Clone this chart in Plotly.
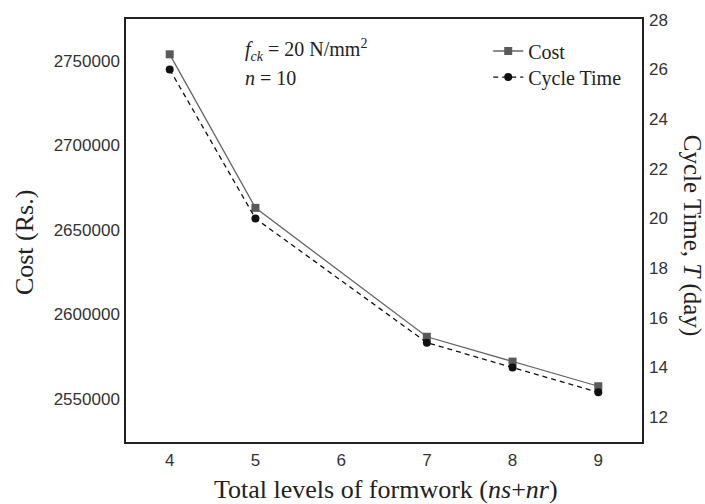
import plotly.graph_objects as go

levels = [4, 5, 7, 8, 9]
cost = [2753800, 2662900, 2586600, 2571900, 2557300]
cycle_time = [26, 20, 15, 14, 13]
x_ticks = [4, 5, 6, 7, 8, 9]
cost_ticks = [2550000, 2600000, 2650000, 2700000, 2750000]
time_ticks = [12, 14, 16, 18, 20, 22, 24, 26, 28]

serif = "Liberation Serif, Times New Roman, serif"
sans = "Liberation Sans, Arial, sans-serif"

L, R, T, B = 126, 641.7, 19, 441.7
PW, PH = R - L, B - T


def px(xp):
    return (xp - L) / PW


def py(yp):
    return (B - yp) / PH


fig = go.Figure()
fig.add_trace(go.Scatter(
    x=levels, y=cost, name="Cost", mode="lines+markers",
    line=dict(color="#666666", width=1.3),
    marker=dict(symbol="square", size=8, color="#5a5a5a"),
    yaxis="y", legend="legend"))
fig.add_trace(go.Scatter(
    x=levels, y=cycle_time, name="Cycle Time", mode="lines+markers",
    line=dict(color="#111111", width=1.3, dash="5px,4px"),
    marker=dict(symbol="circle", size=8, color="#111111"),
    yaxis="y2", legend="legend2"))

leg_common = dict(xanchor="left", yanchor="middle", bgcolor="rgba(0,0,0,0)",
                  font=dict(family=serif, size=20, color="#222"), itemwidth=30)

fig.update_layout(
    width=705, height=504,
    margin=dict(l=L, r=705 - R, t=T, b=504 - B),
    paper_bgcolor="white", plot_bgcolor="white",
    showlegend=True,
    legend=dict(x=px(488), y=py(51), **leg_common),
    legend2=dict(x=px(488), y=py(77), **leg_common),
    xaxis=dict(range=[3.49, 9.51], tickvals=x_ticks, ticktext=[str(v) for v in x_ticks],
               showgrid=False, zeroline=False, showline=True, mirror=True,
               linecolor="#222", linewidth=1.5, ticks="",
               tickfont=dict(family=sans, size=17, color="#333"), ticklabelstandoff=2),
    yaxis=dict(range=[2524300, 2774700], tickvals=cost_ticks,
               ticktext=[str(v) for v in cost_ticks],
               showgrid=False, zeroline=False, showline=True, mirror=True,
               linecolor="#222", linewidth=1.5, ticks="",
               tickfont=dict(family=sans, size=17, color="#333"), ticklabelstandoff=1),
    yaxis2=dict(range=[11, 28.03], tickvals=time_ticks, ticktext=[str(v) for v in time_ticks],
                overlaying="y", side="right", showgrid=False, zeroline=False,
                showline=False, ticks="",
                tickfont=dict(family=sans, size=17, color="#333"), ticklabelstandoff=6),
    annotations=[
        dict(text="<i>f</i><sub><i>ck</i></sub> = 20 N/mm<sup>2</sup>", xref="paper", yref="paper",
             x=px(243), y=py(50), xanchor="left", yanchor="middle", align="left",
             showarrow=False, font=dict(family=serif, size=20, color="#222")),
        dict(text="<i>n</i> = 10", xref="paper", yref="paper",
             x=px(243), y=py(78), xanchor="left", yanchor="middle", align="left",
             showarrow=False, font=dict(family=serif, size=20, color="#222")),
        dict(text="Cost (Rs.)", xref="paper", yref="paper", x=px(24),
             y=py(242), xanchor="center", yanchor="middle", textangle=-90,
             showarrow=False, font=dict(family=serif, size=26, color="#222")),
        dict(text="Cycle Time, <i>T</i> (day)", xref="paper", yref="paper", x=px(692),
             y=py(235), xanchor="center", yanchor="middle", textangle=90,
             showarrow=False, font=dict(family=serif, size=25, color="#222")),
        dict(text="Total levels of formwork (<i>ns</i>+<i>nr</i>)", xref="paper", yref="paper",
             x=px(386), y=py(489), xanchor="center", yanchor="middle",
             showarrow=False, font=dict(family=serif, size=26, color="#222")),
    ],
)

fig.write_html("out.html", config={"displayModeBar": False},
               post_script="document.body.style.margin='0';document.body.style.padding='0';")
